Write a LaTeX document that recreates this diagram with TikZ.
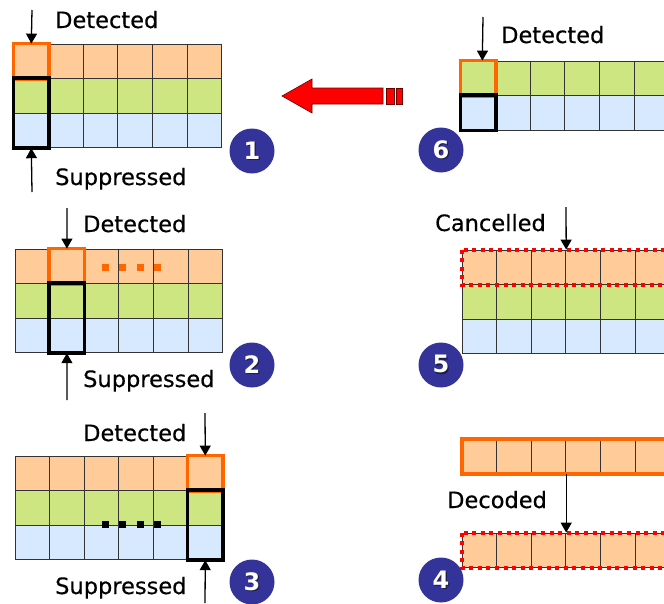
\documentclass[tikz,border=0pt]{standalone}
\usepackage{fontspec}
\setmainfont{DejaVu Sans}
\newfontfamily\lblfont{DejaVu Sans}[FakeBold=0.4]
\usetikzlibrary{arrows.meta}

\definecolor{rowor}{RGB}{255,204,153}
\definecolor{rowgr}{RGB}{206,230,130}
\definecolor{rowbl}{RGB}{215,233,255}
\definecolor{hlor}{RGB}{255,102,0}
\definecolor{numbl}{RGB}{51,51,153}
\definecolor{numsh}{RGB}{30,30,70}

% six cells in a row, named <name>-1 ... <name>-6
\newcommand{\cellrow}[4]{%
  \foreach \c in {1,...,6}
    \node[cell, fill=#4] (#1-\c) at ({#2+34.6*\c-17.3},{#3+17.3}) {};}
% white digit with a dark shadow
\newcommand{\numtext}[1]{\makebox[0pt][l]{\kern1.2pt\raisebox{-1.2pt}{\color{numsh}#1}}#1}

\begin{document}
\begin{tikzpicture}[x=1pt, y=-1pt,
    cell/.style={draw=black!80, line width=0.8pt, minimum size=34.6pt, inner sep=0pt},
    det/.style={draw=hlor, line width=3.6pt},
    sup/.style={draw=black, line width=3.6pt},
    cancel/.style={draw=red, line width=4pt, dash pattern=on 4pt off 4.6pt},
    lbl/.style={font=\lblfont\fontsize{22.5}{26}\selectfont, inner sep=0pt, anchor=base west},
    num/.style={circle, fill=numbl, minimum size=45pt, inner sep=0pt, text=white, font=\fontsize{24}{26}\selectfont\bfseries},
    n/.style={-{Triangle[length=10pt,width=11pt]}, line width=1.3pt}]
    \clip (0,0) rectangle (664,603);
    % grids
    \cellrow{a1}{14}{44}{rowor}
    \cellrow{b1}{14}{78.6}{rowgr}
    \cellrow{c1}{14}{113.2}{rowbl}

    \cellrow{a2}{15}{249}{rowor}
    \cellrow{b2}{15}{283.6}{rowgr}
    \cellrow{c2}{15}{318.2}{rowbl}

    \cellrow{a3}{15}{456}{rowor}
    \cellrow{b3}{15}{490.6}{rowgr}
    \cellrow{c3}{15}{525.2}{rowbl}

    \cellrow{b6}{461}{61}{rowgr}
    \cellrow{c6}{461}{95.6}{rowbl}

    \cellrow{a5}{462}{250}{rowor}
    \cellrow{b5}{462}{284.6}{rowgr}
    \cellrow{c5}{462}{319.2}{rowbl}

    \cellrow{d4}{462}{439}{rowor}
    \cellrow{e4}{462}{533}{rowor}

    % marked cells
    \draw[det] (a1-1.north west) rectangle (a1-1.south east);
    \draw[sup] (b1-1.north west) rectangle (c1-1.south east);
    \draw[det] (a2-2.north west) rectangle (a2-2.south east);
    \draw[sup] (b2-2.north west) rectangle (c2-2.south east);
    \draw[det] (a3-6.north west) rectangle (a3-6.south east);
    \draw[sup] (b3-6.north west) rectangle (c3-6.south east);
    \draw[det] (b6-1.north west) rectangle (b6-1.south east);
    \draw[sup] (c6-1.north west) rectangle (c6-1.south east);
    \draw[cancel] (a5-1.north west) rectangle (a5-6.south east);
    \draw[det, line width=4pt] (d4-1.north west) rectangle (d4-6.south east);
    \draw[cancel] (e4-1.north west) rectangle (e4-6.south east);

    % dots
    \foreach \i in {0,...,3} {
        \fill[hlor] ({101.5+17.6*\i},263.5) rectangle +(7,7);
        \fill[black] ({101.5+17.6*\i},520.5) rectangle +(7,7);
    }

    % labels
    \node[lbl] (det1) at (55,28) {Detected};
    \node[lbl] (sup1) at (55,185) {Suppressed};
    \node[lbl] (det2) at (83,232) {Detected};
    \node[lbl] (sup2) at (83,387) {Suppressed};
    \node[lbl] (det3) at (83,441) {Detected};
    \node[lbl] (sup3) at (55,594) {Suppressed};
    \node[lbl] (det6) at (501,43) {Detected};
    \node[lbl] (can5) at (435,231) {Cancelled};
    \node[lbl] (dec4) at (447,508) {Decoded};

    % numbers
    \node[num] (m1) at (252,151) {\numtext{1}};
    \node[num] (m2) at (252,365) {\numtext{2}};
    \node[num] (m3) at (252,582) {\numtext{3}};
    \node[num] (m6) at (441,150) {\numtext{6}};
    \node[num] (m5) at (441,365) {\numtext{5}};
    \node[num] (m4) at (441,580) {\numtext{4}};

    % free arrow ends
    \coordinate (t1) at (32,10);
    \coordinate (u1) at (32,192);
    \coordinate (t2) at (67,208);
    \coordinate (u2) at (67,400);
    \coordinate (t3) at (205,413);
    \coordinate (u3) at (205,603);
    \coordinate (t6) at (483,17);
    \coordinate (t5) at (566,207);

    % edges
    \draw[n] (t1) -- (a1-1.north);
    \draw[n] (u1) -- (c1-1.south);
    \draw[n] (t2) -- (a2-2.north);
    \draw[n] (u2) -- (c2-2.south);
    \draw[n] (t3) -- (a3-6.north);
    \draw[n] (u3) -- (c3-6.south);
    \draw[n] (t6) -- ([xshift=4pt]b6-1.north);
    \draw[n] (t5) -- (a5-3.north east);
    \draw[n] (d4-3.south east) -- (e4-3.north east);

    % block arrow from 6 back to 1
    \draw[fill=red, draw=black!60!red, line width=0.6pt]
        (282,96) -- (312,79) -- (312,88) -- (383,88) -- (383,104)
        -- (312,104) -- (312,113) -- cycle;
    \draw[fill=red, draw=black!60!red, line width=0.6pt] (386,88) rectangle (394,104);
    \draw[fill=red, draw=black!60!red, line width=0.6pt] (396,88) rectangle (402,104);
\end{tikzpicture}
\end{document}
